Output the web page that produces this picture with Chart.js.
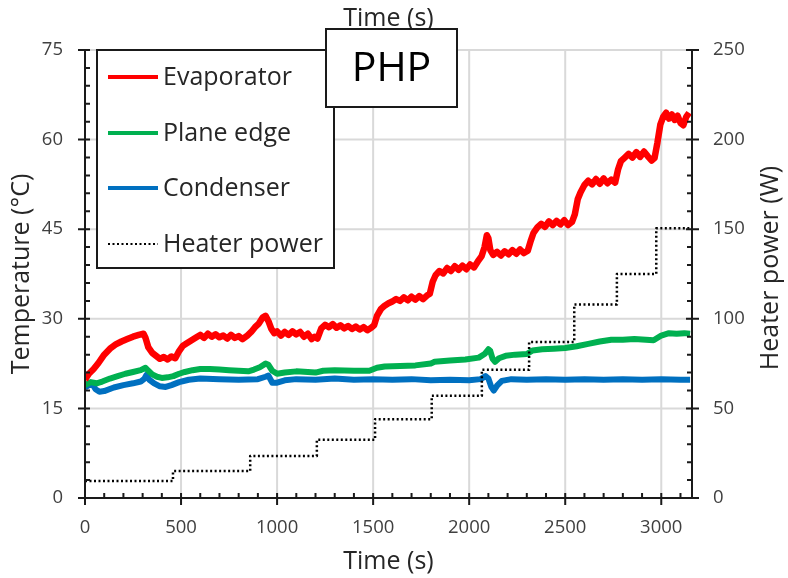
<!DOCTYPE html>
<html lang="en">
<head>
  <meta charset="UTF-8" />
  <title>PHP test - temperatures and heater power</title>
  <script src="https://cdn.jsdelivr.net/npm/chart.js"></script>
  <style>
    body {
      margin: 0;
      background: #fff;
    }
    canvas {
      display: block;
    }
  </style>
</head>
<body>
  <canvas id="phpChart" width="788" height="578"></canvas>

  <script>
    // Evaporator temperature (°C) against time (s)
    const evapTime = [0, 20, 45, 70, 100, 130, 160, 190, 220, 250, 280, 305, 315, 330, 350, 370, 390, 410, 430, 450, 470, 490, 510, 530, 555, 580, 600, 620, 640, 660, 680, 700, 720, 740, 760, 780, 800, 820, 845, 865, 885, 905, 925, 940, 955, 970, 985, 1000, 1020, 1040, 1060, 1080, 1100, 1120, 1140, 1160, 1180, 1195, 1210, 1230, 1250, 1270, 1290, 1310, 1330, 1350, 1370, 1390, 1410, 1430, 1450, 1470, 1490, 1505, 1520, 1540, 1560, 1580, 1600, 1620, 1640, 1660, 1680, 1700, 1720, 1740, 1760, 1780, 1795, 1810, 1825, 1845, 1865, 1885, 1905, 1925, 1945, 1965, 1985, 2005, 2025, 2045, 2065, 2080, 2092, 2100, 2110, 2125, 2145, 2165, 2185, 2205, 2225, 2245, 2265, 2285, 2305, 2320, 2335, 2355, 2375, 2395, 2415, 2435, 2455, 2475, 2495, 2515, 2535, 2550, 2565, 2580, 2600, 2620, 2640, 2660, 2680, 2700, 2720, 2740, 2760, 2775, 2790, 2810, 2830, 2850, 2870, 2890, 2910, 2930, 2950, 2965, 2980, 2995, 3010, 3025, 3040, 3055, 3070, 3085, 3100, 3115, 3130, 3145];
    const evapTemp = [19.8, 20.8, 21.6, 22.6, 24.0, 25.0, 25.7, 26.2, 26.6, 27.0, 27.3, 27.5, 26.8, 25.2, 24.3, 23.8, 23.3, 23.6, 23.2, 23.7, 23.4, 24.6, 25.5, 25.9, 26.4, 26.9, 27.3, 26.8, 27.5, 27.0, 27.4, 26.9, 27.2, 26.7, 27.3, 26.8, 27.1, 26.6, 27.2, 27.8, 28.6, 29.2, 30.2, 30.5, 29.6, 28.3, 27.6, 27.9, 27.2, 27.8, 27.3, 27.9, 27.4, 27.8, 27.0, 27.5, 26.6, 27.0, 26.7, 28.4, 29.0, 28.6, 29.1, 28.5, 28.9, 28.4, 28.8, 28.3, 28.7, 28.2, 28.6, 28.1, 28.5, 28.9, 30.5, 31.6, 32.2, 32.6, 32.9, 33.3, 33.0, 33.6, 33.1, 33.7, 33.2, 33.8, 33.3, 33.9, 34.2, 36.2, 37.3, 38.0, 37.6, 38.5, 38.0, 38.8, 38.2, 38.9, 38.3, 39.1, 38.6, 39.6, 40.5, 42.0, 44.0, 43.5, 41.5, 40.7, 41.2, 40.6, 41.3, 40.8, 41.5, 40.9, 41.6, 41.0, 41.4, 43.0, 44.4, 45.3, 45.9, 45.4, 46.3, 45.7, 46.4, 45.8, 46.5, 45.7, 46.2, 47.5, 50.0, 51.2, 52.4, 53.1, 52.5, 53.4, 52.6, 53.5, 52.7, 53.3, 52.8, 55.0, 56.4, 57.0, 57.6, 57.0, 57.9, 57.1, 58.0, 57.2, 56.5, 56.9, 59.5, 62.5, 63.8, 64.5, 63.5, 64.2, 63.3, 64.0, 62.8, 62.4, 63.8, 64.5];

    // Plane edge temperature (°C)
    const edgeTime = [0, 30, 60, 90, 130, 170, 210, 250, 290, 315, 330, 350, 375, 400, 430, 460, 490, 520, 560, 600, 650, 700, 750, 800, 850, 880, 910, 940, 955, 975, 1000, 1040, 1100, 1160, 1200, 1240, 1300, 1400, 1480, 1520, 1560, 1640, 1720, 1800, 1820, 1900, 1980, 2050, 2080, 2100, 2110, 2122, 2135, 2155, 2190, 2240, 2300, 2330, 2380, 2440, 2500, 2560, 2620, 2680, 2740, 2800, 2860, 2920, 2960, 3000, 3040, 3080, 3120, 3150];
    const edgeTemp = [18.9, 19.4, 19.2, 19.5, 20.0, 20.4, 20.8, 21.1, 21.4, 21.8, 21.3, 20.7, 20.3, 20.1, 20.2, 20.4, 20.8, 21.1, 21.4, 21.6, 21.6, 21.5, 21.4, 21.3, 21.2, 21.5, 21.9, 22.5, 22.3, 21.3, 20.8, 21.0, 21.2, 21.1, 21.0, 21.3, 21.4, 21.3, 21.3, 21.8, 22.0, 22.1, 22.2, 22.5, 22.8, 23.0, 23.2, 23.5, 24.1, 24.9, 24.6, 23.3, 22.8, 23.4, 23.8, 24.0, 24.1, 24.7, 24.9, 25.0, 25.1, 25.4, 25.8, 26.2, 26.5, 26.5, 26.6, 26.5, 26.4, 27.2, 27.6, 27.5, 27.6, 27.5];

    // Condenser temperature (°C)
    const condTime = [0, 20, 40, 55, 75, 100, 150, 200, 250, 290, 310, 320, 335, 360, 390, 420, 450, 490, 540, 600, 700, 800, 900, 940, 955, 975, 1000, 1040, 1100, 1200, 1300, 1400, 1500, 1600, 1700, 1800, 1900, 2000, 2060, 2085, 2100, 2115, 2128, 2145, 2170, 2220, 2300, 2400, 2500, 2600, 2700, 2800, 2900, 3000, 3100, 3150];
    const condTemp = [18.5, 18.9, 19.0, 18.2, 17.8, 17.9, 18.5, 18.9, 19.2, 19.5, 20.0, 20.6, 19.8, 19.2, 18.7, 18.6, 18.9, 19.4, 19.8, 20.0, 19.9, 19.8, 19.9, 20.3, 20.5, 19.3, 19.3, 19.7, 19.9, 19.8, 20.0, 19.8, 19.9, 19.8, 19.9, 19.7, 19.8, 19.7, 19.9, 20.4, 20.0, 18.6, 18.0, 18.8, 19.6, 19.9, 19.8, 19.9, 19.8, 19.9, 19.8, 19.9, 19.8, 19.9, 19.8, 19.8];

    // Heater power (W), stepped
    const heaterTime = [0, 458, 458, 860, 860, 1207, 1207, 1510, 1510, 1805, 1805, 2066, 2066, 2312, 2312, 2547, 2547, 2769, 2769, 2974, 2974, 3150];
    const heaterPower = [9.5, 9.5, 15, 15, 23.5, 23.5, 32.5, 32.5, 44, 44, 57, 57, 71.5, 71.5, 87, 87, 108, 108, 125, 125, 150.5, 150.5];

    const FONT = "'Open Sans', sans-serif";
    const INK = '#262626';
    const GRID = '#d9d9d9';

    const toPoints = (xs, ys) => xs.map((x, i) => ({ x: x, y: ys[i] }));

    // major gridlines: every 500 s and every 15 °C
    const gridPlugin = {
      id: 'majorGrid',
      beforeDatasetsDraw(chart) {
        const { ctx, chartArea: a, scales } = chart;
        ctx.save();
        ctx.strokeStyle = GRID;
        ctx.lineWidth = 2;
        ctx.beginPath();
        for (let v = 500; v <= 3000; v += 500) {
          const px = scales.x.getPixelForValue(v);
          ctx.moveTo(px, a.top); ctx.lineTo(px, a.bottom);
        }
        for (let v = 15; v <= 75; v += 15) {
          const py = scales.y.getPixelForValue(v);
          ctx.moveTo(a.left, py); ctx.lineTo(a.right, py);
        }
        ctx.stroke();
        ctx.restore();
      }
    };

    // axis lines with major ticks crossing and minor ticks inside
    const axisPlugin = {
      id: 'axisLines',
      afterDatasetsDraw(chart) {
        const { ctx, chartArea: a, scales } = chart;
        ctx.save();
        ctx.strokeStyle = '#1a1a1a';
        ctx.lineWidth = 2;
        ctx.beginPath();
        ctx.moveTo(a.left, a.top); ctx.lineTo(a.left, a.bottom); ctx.lineTo(a.right, a.bottom);
        ctx.moveTo(a.right, a.top); ctx.lineTo(a.right, a.bottom);
        for (let v = 0; v <= 3100; v += 100) {
          const px = scales.x.getPixelForValue(v);
          if (v % 500 === 0) { ctx.moveTo(px, a.bottom - 5); ctx.lineTo(px, a.bottom + 7); }
          else { ctx.moveTo(px, a.bottom - 5); ctx.lineTo(px, a.bottom); }
        }
        for (let v = 0; v <= 75; v += 3) {
          const py = scales.y.getPixelForValue(v);
          if (v % 15 === 0) { ctx.moveTo(a.left - 7, py); ctx.lineTo(a.left + 5, py); }
          else { ctx.moveTo(a.left, py); ctx.lineTo(a.left + 5, py); }
        }
        for (let v = 0; v <= 250; v += 10) {
          const py = scales.y2.getPixelForValue(v);
          if (v % 50 === 0) { ctx.moveTo(a.right - 6, py); ctx.lineTo(a.right + 7, py); }
          else { ctx.moveTo(a.right - 5, py); ctx.lineTo(a.right, py); }
        }
        ctx.stroke();

        // right axis title reads bottom to top
        ctx.fillStyle = INK;
        ctx.font = '25px ' + FONT;
        ctx.textAlign = 'center';
        ctx.textBaseline = 'middle';
        ctx.translate(771, 268);
        ctx.rotate(-Math.PI / 2);
        ctx.fillText('Heater power (W)', 0, 0);
        ctx.restore();
      }
    };

    // boxed legend inside the plot plus the "PHP" label
    const boxPlugin = {
      id: 'boxes',
      afterDraw(chart) {
        const { ctx } = chart;
        const ds = chart.data.datasets;
        ctx.save();
        ctx.fillStyle = '#fff';
        ctx.strokeStyle = '#1a1a1a';
        ctx.lineWidth = 2;
        ctx.fillRect(97, 50, 237, 218);
        ctx.strokeRect(97, 50, 237, 218);

        const rows = [77, 133, 188, 244];
        ctx.font = '25px ' + FONT;
        ctx.textBaseline = 'middle';
        ctx.textAlign = 'left';
        rows.forEach((y, i) => {
          const d = ds[i];
          ctx.beginPath();
          ctx.strokeStyle = d.borderColor;
          ctx.lineWidth = i === 3 ? 2 : 4;
          ctx.setLineDash(i === 3 ? [2, 2.5] : []);
          ctx.moveTo(108, y); ctx.lineTo(158, y);
          ctx.stroke();
          ctx.setLineDash([]);
          ctx.fillStyle = INK;
          ctx.fillText(d.label, 163, y + 1);
        });

        ctx.fillStyle = '#fff';
        ctx.strokeStyle = '#1a1a1a';
        ctx.lineWidth = 2;
        ctx.fillRect(326, 29, 131, 78);
        ctx.strokeRect(326, 29, 131, 78);
        ctx.fillStyle = '#000';
        ctx.font = '41px ' + FONT;
        ctx.textAlign = 'center';
        ctx.fillText('PHP', 391.5, 69);
        ctx.restore();
      }
    };

    const ctx = document.getElementById('phpChart').getContext('2d');
    new Chart(ctx, {
      type: 'line',
      data: {
        datasets: [
          {
            label: 'Evaporator',
            data: toPoints(evapTime, evapTemp),
            borderColor: '#ff0000',
            borderWidth: 6.5,
            yAxisID: 'y',
            order: 1
          },
          {
            label: 'Plane edge',
            data: toPoints(edgeTime, edgeTemp),
            borderColor: '#00b050',
            borderWidth: 6,
            yAxisID: 'y',
            order: 2
          },
          {
            label: 'Condenser',
            data: toPoints(condTime, condTemp),
            borderColor: '#0070c0',
            borderWidth: 6,
            yAxisID: 'y',
            order: 3
          },
          {
            label: 'Heater power',
            data: toPoints(heaterTime, heaterPower),
            borderColor: '#000000',
            borderWidth: 2.5,
            borderDash: [2, 2.5],
            yAxisID: 'y2',
            order: 0
          }
        ]
      },
      options: {
        responsive: false,
        animation: false,
        devicePixelRatio: 1,
        layout: { padding: 0 },
        elements: {
          point: { radius: 0 },
          line: { tension: 0, borderJoinStyle: 'round' }
        },
        plugins: {
          legend: { display: false },
          tooltip: { enabled: false }
        },
        scales: {
          x: {
            type: 'linear',
            position: 'bottom',
            min: 0,
            max: 3160,
            afterFit: s => { s.height = 80; },
            border: { display: false },
            grid: { display: false, drawTicks: false },
            ticks: {
              stepSize: 100,
              autoSkip: false,
              maxRotation: 0,
              padding: 19,
              color: '#404040',
              font: { family: FONT, size: 18.5 },
              callback: v => v % 500 === 0 ? v : ''
            },
            title: {
              display: true,
              text: 'Time (s)',
              color: INK,
              font: { family: FONT, size: 25 },
              padding: { top: 0, bottom: 1 }
            }
          },
          xTop: {
            type: 'linear',
            position: 'top',
            min: 0,
            max: 3160,
            afterFit: s => { s.height = 50; },
            border: { display: false },
            grid: { display: false, drawTicks: false },
            ticks: { display: false },
            title: {
              display: true,
              text: 'Time (s)',
              color: INK,
              font: { family: FONT, size: 25 },
              padding: { top: 4, bottom: 0 }
            }
          },
          y: {
            position: 'left',
            min: 0,
            max: 75,
            afterFit: s => { s.width = 85; },
            border: { display: false },
            grid: { display: false, drawTicks: false },
            ticks: {
              stepSize: 3,
              autoSkip: false,
              padding: 22,
              color: '#404040',
              font: { family: FONT, size: 18.5 },
              callback: v => v % 15 === 0 ? v : ''
            },
            title: {
              display: true,
              text: 'Temperature (°C)',
              color: INK,
              font: { family: FONT, size: 25 },
              padding: { top: 7, bottom: 0 }
            }
          },
          y2: {
            position: 'right',
            min: 0,
            max: 250,
            afterFit: s => { s.width = 96; },
            border: { display: false },
            grid: { display: false, drawTicks: false },
            ticks: {
              stepSize: 10,
              autoSkip: false,
              padding: 21,
              color: '#404040',
              font: { family: FONT, size: 18.5 },
              callback: v => v % 50 === 0 ? v : ''
            }
          }
        }
      },
      plugins: [gridPlugin, axisPlugin, boxPlugin]
    });
  </script>
</body>
</html>
